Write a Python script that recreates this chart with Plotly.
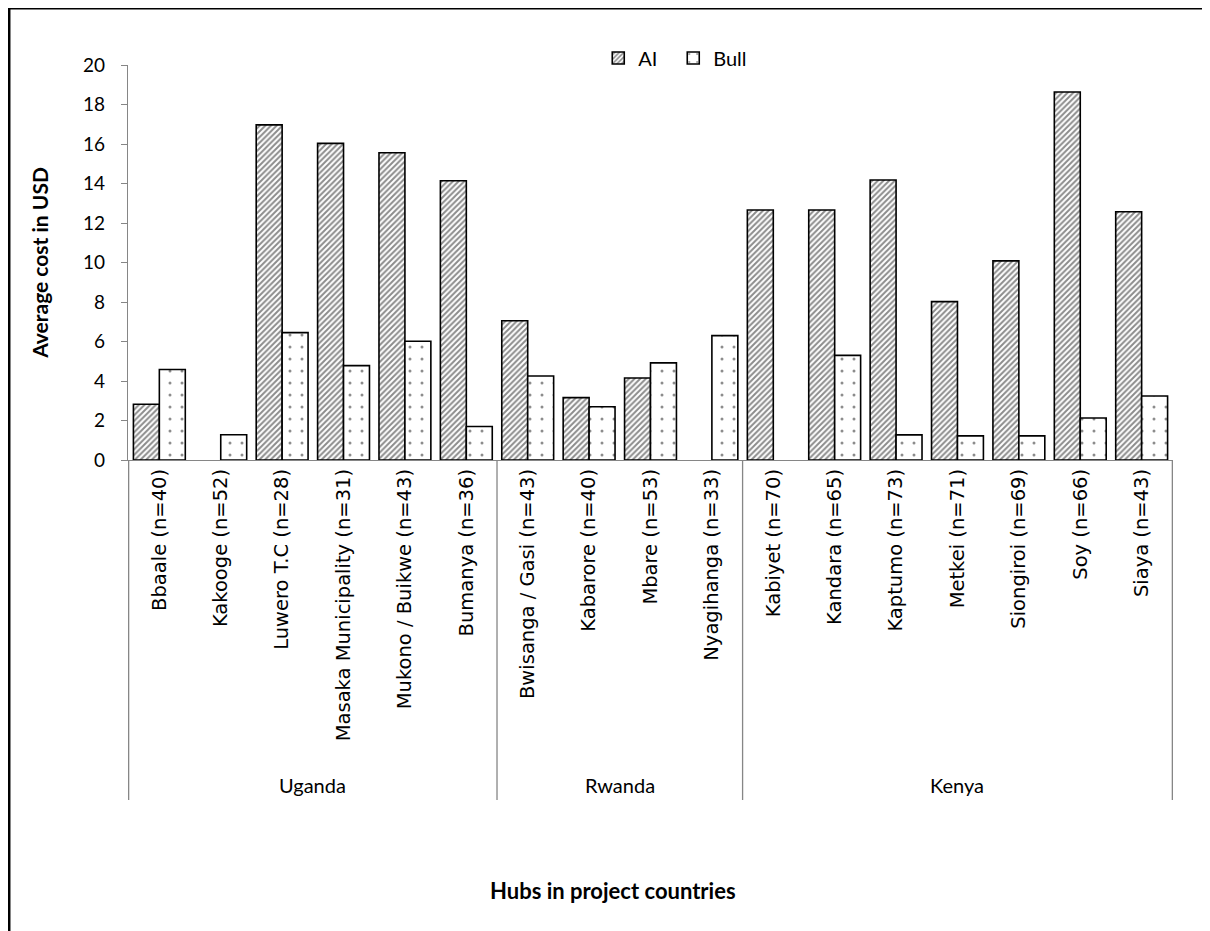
import plotly.graph_objects as go

hubs = ["Bbaale (n=40)", "Kakooge (n=52)", "Luwero T.C (n=28)", "Masaka Municipality (n=31)",
        "Mukono / Buikwe (n=43)", "Bumanya (n=36)",
        "Bwisanga / Gasi (n=43)", "Kabarore (n=40)", "Mbare (n=53)", "Nyagihanga (n=33)",
        "Kabiyet (n=70)", "Kandara (n=65)", "Kaptumo (n=73)", "Metkei (n=71)",
        "Siongiroi (n=69)", "Soy (n=66)", "Siaya (n=43)"]
countries = ["Uganda", "Rwanda", "Kenya"]
hubs_per_country = [6, 4, 7]

ai = [2.82, None, 16.97, 16.03, 15.56, 14.14,
      7.05, 3.16, 4.15, None,
      12.66, 12.66, 14.18, 8.02, 10.08, 18.63, 12.57]
bull = [4.58, 1.28, 6.45, 4.78, 6.01, 1.70,
        4.25, 2.70, 4.92, 6.30,
        None, 5.30, 1.27, 1.22, 1.22, 2.13, 3.24]

fig = go.Figure()
fig.add_trace(go.Bar(
    x=hubs, y=ai, name="AI",
    marker=dict(color="white", line=dict(color="black", width=1.6),
                pattern=dict(shape="/", fgcolor="#1a1a1a", bgcolor="white", size=4, solidity=0.5)),
))
fig.add_trace(go.Bar(
    x=hubs, y=bull, name="Bull",
    marker=dict(color="white", line=dict(color="black", width=1.6),
                pattern=dict(shape=".", fgcolor="#1a1a1a", bgcolor="white", size=12, solidity=0.05)),
))

axis_grey = "#868686"
shapes = []
annotations = []
start = 0
bounds = [-0.5]
for c, n in zip(countries, hubs_per_country):
    mid = start + (n - 1) / 2
    annotations.append(dict(x=mid, y=-0.823, xref="x", yref="paper", text=c, showarrow=False,
                            font=dict(family="Lato", size=20, color="black"), yanchor="middle"))
    start += n
    bounds.append(start - 0.5)
for b in bounds:
    shapes.append(dict(type="line", xref="x", yref="paper", x0=b, x1=b, y0=0, y1=-0.861,
                       line=dict(color=axis_grey, width=1.3)))
# outer chart border
shapes.append(dict(type="rect", xref="paper", yref="paper", x0=-0.1139, x1=1.06, y0=-1.3, y1=1.1443,
                   line=dict(color="black", width=3), layer="above"))

annotations.append(dict(x=0.464, y=-1.089, xref="paper", yref="paper", text="<b>Hubs in project countries</b>",
                        showarrow=False, yanchor="middle",
                        font=dict(family="Lato", size=22, color="black")))

fig.update_layout(
    width=1202, height=923,
    margin=dict(l=120, r=37, t=57, b=471),
    paper_bgcolor="white", plot_bgcolor="white",
    barmode="group", bargap=0.155, bargroupgap=0,
    font=dict(family="Lato", size=19, color="black"),
    legend=dict(orientation="h", x=0.45, xanchor="left", y=1.0177, yanchor="middle",
                font=dict(family="Lato", size=20), entrywidth=30, itemwidth=30),
    xaxis=dict(type="category", tickangle=-90, showline=True, linecolor=axis_grey, linewidth=1.3,
               ticks="", tickfont=dict(family="DejaVu Sans", size=19.5), showgrid=False, zeroline=False),
    yaxis=dict(range=[0, 20], dtick=2, showline=True, linecolor=axis_grey, linewidth=1.3,
               ticks="outside", ticklen=6, tickcolor=axis_grey, showgrid=False, zeroline=False,
               tickfont=dict(family="Lato", size=19), ticklabelstandoff=12,
               title=dict(text="<b>Average cost in USD</b>", font=dict(family="Lato", size=21), standoff=28)),
    shapes=shapes, annotations=annotations,
)

fig.write_html("out.html")
